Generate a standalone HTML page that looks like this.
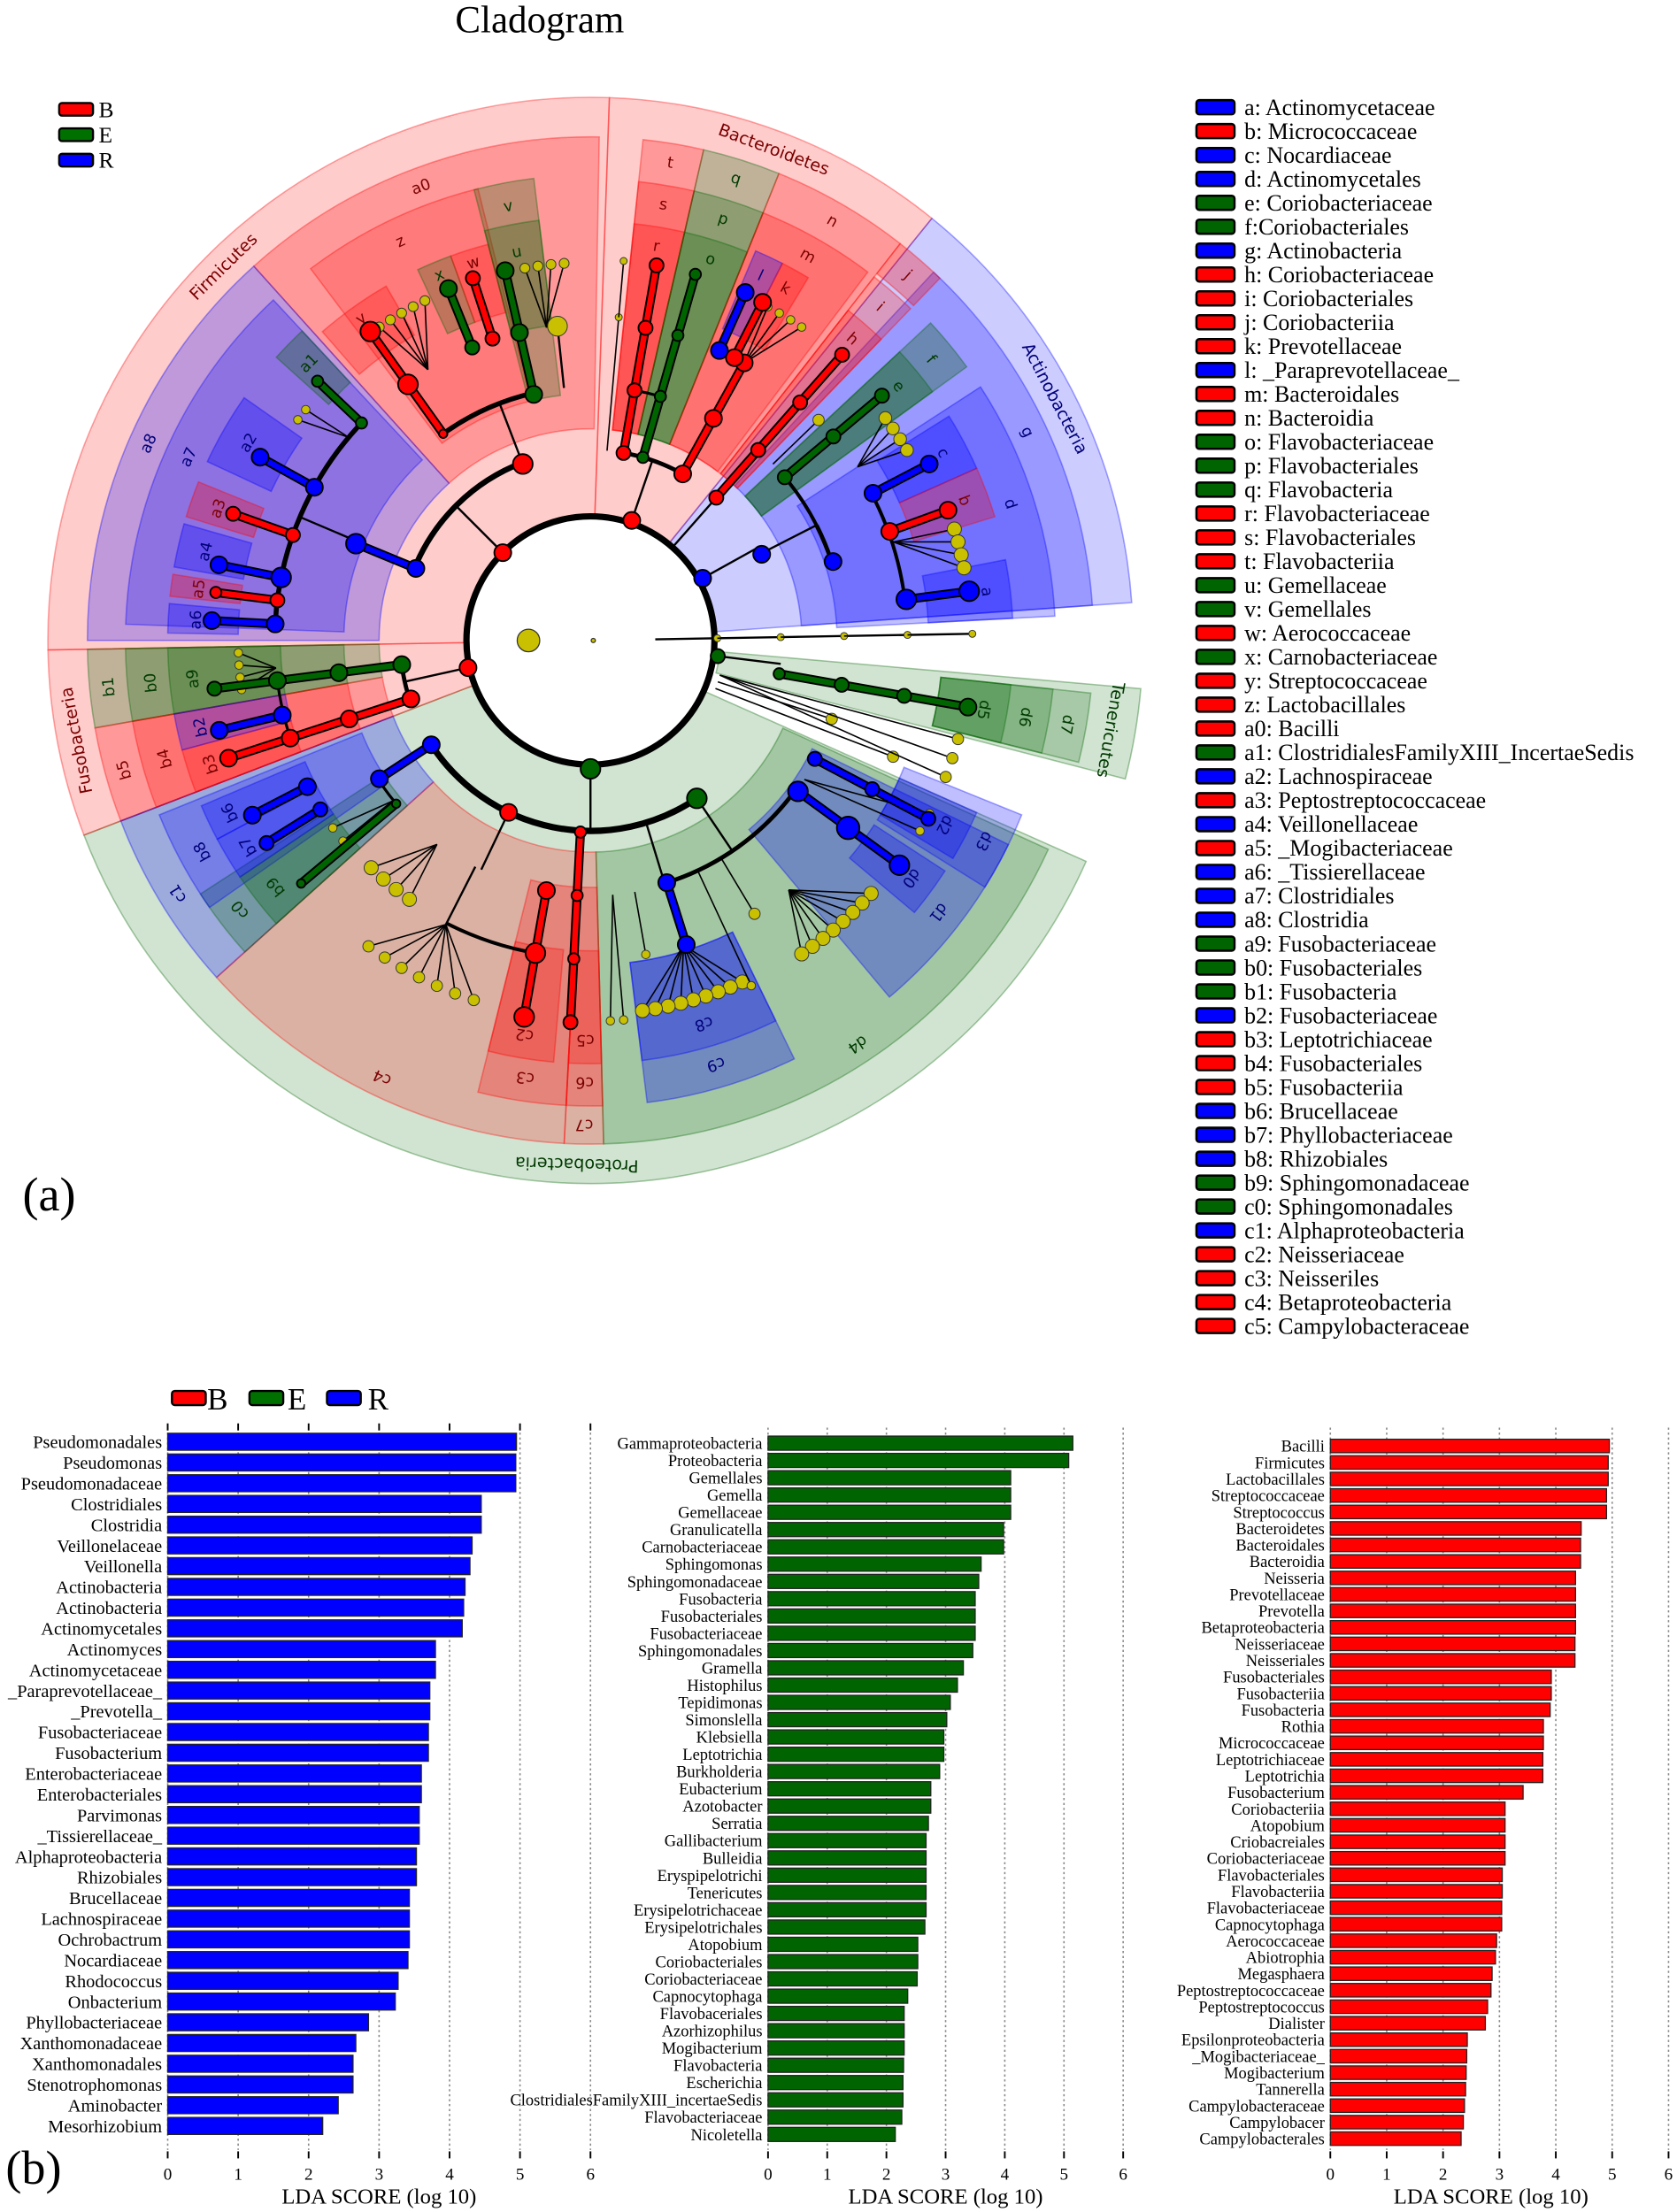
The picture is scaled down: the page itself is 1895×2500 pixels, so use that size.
<!DOCTYPE html>
<html><head><meta charset="utf-8"><style>
html,body{margin:0;padding:0;background:#fff;}
svg{display:block;}
text{font-family:"Liberation Serif",serif;}
.cl{font-family:"DejaVu Sans","Liberation Sans",sans-serif;}
</style></head><body>
<svg id="fig" xmlns="http://www.w3.org/2000/svg" width="1895" height="2500" viewBox="0 0 1190 1568" preserveAspectRatio="none">
<rect x="0" y="0" width="1190" height="1568" fill="#fff"/>
<text x="323" y="23" font-size="27">Cladogram</text>
<text x="16" y="858" font-size="34">(a)</text>
<text x="4" y="1548" font-size="34">(b)</text>
<g id="clado"></g>
<g id="cladoLegend">
 <rect x="42" y="73" width="24" height="9" fill="#f00" stroke="#000" stroke-width="1.5" rx="2"/>
 <text x="70" y="83" font-size="16">B</text>
 <rect x="42" y="91" width="24" height="9" fill="#007000" stroke="#000" stroke-width="1.5" rx="2"/>
 <text x="70" y="101" font-size="16">E</text>
 <rect x="42" y="109" width="24" height="9" fill="#00f" stroke="#000" stroke-width="1.5" rx="2"/>
 <text x="70" y="119" font-size="16">R</text>
</g>
<g id="keyLegend"></g>
<g id="barLegend">
 <rect x="122" y="986" width="24" height="10" fill="#f00" stroke="#000" stroke-width="1.5" rx="2"/>
 <text x="147" y="999" font-size="22">B</text>
 <rect x="177" y="986" width="24" height="10" fill="#007000" stroke="#000" stroke-width="1.5" rx="2"/>
 <text x="204" y="999" font-size="22">E</text>
 <rect x="232" y="986" width="24" height="10" fill="#00f" stroke="#000" stroke-width="1.5" rx="2"/>
 <text x="261" y="999" font-size="22">R</text>
</g>
<g id="bars"></g>
</svg>
<script>
// ---------- Bar chart data ----------
const namesR = ["Pseudomonadales","Pseudomonas","Pseudomonadaceae","Clostridiales","Clostridia","Veillonelaceae","Veillonella","Actinobacteria","Actinobacteria","Actinomycetales","Actinomyces","Actinomycetaceae","_Paraprevotellaceae_","_Prevotella_","Fusobacteriaceae","Fusobacterium","Enterobacteriaceae","Enterobacteriales","Parvimonas","_Tissierellaceae_","Alphaproteobacteria","Rhizobiales","Brucellaceae","Lachnospiraceae","Ochrobactrum","Nocardiaceae","Rhodococcus","Onbacterium","Phyllobacteriaceae","Xanthomonadaceae","Xanthomonadales","Stenotrophomonas","Aminobacter","Mesorhizobium"];
const valsR = [4.95,4.94,4.94,4.45,4.45,4.32,4.29,4.22,4.2,4.18,3.8,3.8,3.72,3.72,3.7,3.7,3.6,3.6,3.57,3.57,3.53,3.53,3.43,3.43,3.43,3.41,3.27,3.23,2.85,2.67,2.63,2.63,2.42,2.2];
const namesE = ["Gammaproteobacteria","Proteobacteria","Gemellales","Gemella","Gemellaceae","Granulicatella","Carnobacteriaceae","Sphingomonas","Sphingomonadaceae","Fusobacteria","Fusobacteriales","Fusobacteriaceae","Sphingomonadales","Gramella","Histophilus","Tepidimonas","Simonslella","Klebsiella","Leptotrichia","Burkholderia","Eubacterium","Azotobacter","Serratia","Gallibacterium","Bulleidia","Eryspipelotrichi","Tenericutes","Erysipelotrichaceae","Erysipelotrichales","Atopobium","Coriobacteriales","Coriobacteriaceae","Capnocytophaga","Flavobaceriales","Azorhizophilus","Mogibacterium","Flavobacteria","Escherichia","ClostridialesFamilyXIII_incertaeSedis","Flavobacteriaceae","Nicoletella"];
const valsE = [5.15,5.08,4.1,4.1,4.1,3.98,3.98,3.6,3.56,3.5,3.5,3.5,3.46,3.3,3.2,3.08,3.02,2.97,2.97,2.9,2.75,2.75,2.71,2.67,2.67,2.67,2.67,2.67,2.65,2.53,2.53,2.52,2.36,2.3,2.3,2.3,2.29,2.28,2.28,2.26,2.15];
const namesB = ["Bacilli","Firmicutes","Lactobacillales","Streptococcaceae","Streptococcus","Bacteroidetes","Bacteroidales","Bacteroidia","Neisseria","Prevotellaceae","Prevotella","Betaproteobacteria","Neisseriaceae","Neisseriales","Fusobacteriales","Fusobacteriia","Fusobacteria","Rothia","Micrococcaceae","Leptotrichiaceae","Leptotrichia","Fusobacterium","Coriobacteriia","Atopobium","Criobacreiales","Coriobacteriaceae","Flavobacteriales","Flavobacteriia","Flavobacteriaceae","Capnocytophaga","Aerococcaceae","Abiotrophia","Megasphaera","Peptostreptococcaceae","Peptostreptococcus","Dialister","Epsilonproteobacteria","_Mogibacteriaceae_","Mogibacterium","Tannerella","Campylobacteraceae","Campylobacer","Campylobacterales"];
const valsB = [4.95,4.93,4.93,4.9,4.9,4.45,4.44,4.44,4.35,4.35,4.35,4.35,4.34,4.34,3.92,3.92,3.9,3.78,3.78,3.77,3.77,3.42,3.1,3.1,3.1,3.1,3.05,3.05,3.04,3.04,2.95,2.93,2.87,2.85,2.79,2.75,2.43,2.42,2.41,2.4,2.38,2.36,2.32];
const tickLabels = ["0","1","2","3","4","5","6"];

const NS="http://www.w3.org/2000/svg";
function mk(tag,parent){const e=document.createElementNS(NS,tag);parent.appendChild(e);return e;}

const barsG=document.getElementById('bars');
function drawChart(names,vals,x0,unit,yFirst,yLast,color,fs,key,topTicks,titleAt){
  const g=mk('g',barsG);
  
  
  const n=names.length, step=(yLast-yFirst)/(n-1), bh=step*0.82;
  const xs=v=>x0+v*unit;
  const ys=i=>yFirst+i*step;
  const yTop=1012, yBot=1524;
  for(let t=0;t<tickLabels.length;t++){
    const gl=mk('line',g);
    gl.setAttribute('x1',xs(t));gl.setAttribute('x2',xs(t));gl.setAttribute('y1',yTop);gl.setAttribute('y2',yBot);
    gl.setAttribute('stroke','#888');gl.setAttribute('stroke-width','1');gl.setAttribute('stroke-dasharray','1.5,2');
    
    
    const tk=mk('line',g);
    tk.setAttribute('x1',xs(t));tk.setAttribute('x2',xs(t));tk.setAttribute('y1',1525);tk.setAttribute('y2',1530);
    tk.setAttribute('stroke','#000');tk.setAttribute('stroke-width','1.2');
    
    
    if(topTicks){const tt=mk('line',g);tt.setAttribute('x1',xs(t));tt.setAttribute('x2',xs(t));tt.setAttribute('y1',1009);tt.setAttribute('y2',1014);tt.setAttribute('stroke','#000');tt.setAttribute('stroke-width','1.2');
      
      }
    const tl=mk('text',g);
    tl.setAttribute('x',xs(t));tl.setAttribute('y',1545);tl.setAttribute('font-size','12');tl.setAttribute('text-anchor','middle');
    tl.textContent=tickLabels[t];
    
    
  }
  for(let i=0;i<n;i++){
    const r=mk('rect',g);
    r.setAttribute('x',xs(0));r.setAttribute('y',ys(i)-bh/2);r.setAttribute('width',xs(vals[i])-xs(0));r.setAttribute('height',bh);
    r.setAttribute('fill',color);r.setAttribute('stroke','#222');r.setAttribute('stroke-width','0.8');
    
    
    const t=mk('text',g);
    t.setAttribute('x',xs(0)-4);t.setAttribute('y',ys(i)+fs*0.35);t.setAttribute('font-size',fs);t.setAttribute('text-anchor','end');
    t.textContent=names[i];
    
    
  }
  const at=mk('text',g);
  at.setAttribute('x',xs(titleAt));at.setAttribute('y',1562);at.setAttribute('font-size','15.5');at.setAttribute('text-anchor','middle');
  at.textContent='LDA SCORE (log 10)';
  
  
}
drawChart(namesR,valsR,119,50,1022,1507,'#0000ff',12.8,'r-group',true,3.0);
drawChart(namesE,valsE,545,42,1023,1513,'#006400',11.6,'e-group',false,3.0);
drawChart(namesB,valsB,944,40,1025,1516,'#ff0000',11.6,'b-group',false,2.85);

// ---------- Taxon key legend ----------
const keyText=["a: Actinomycetaceae","b: Micrococcaceae","c: Nocardiaceae","d: Actinomycetales","e: Coriobacteriaceae","f:Coriobacteriales","g: Actinobacteria","h: Coriobacteriaceae","i: Coriobacteriales","j: Coriobacteriia","k: Prevotellaceae","l: _Paraprevotellaceae_","m: Bacteroidales","n: Bacteroidia","o: Flavobacteriaceae","p: Flavobacteriales","q: Flavobacteria","r: Flavobacteriaceae","s: Flavobacteriales","t: Flavobacteriia","u: Gemellaceae","v: Gemellales","w: Aerococcaceae","x: Carnobacteriaceae","y: Streptococcaceae","z: Lactobacillales","a0: Bacilli","a1: ClostridialesFamilyXIII_IncertaeSedis","a2: Lachnospiraceae","a3: Peptostreptococcaceae","a4: Veillonellaceae","a5: _Mogibacteriaceae","a6: _Tissierellaceae","a7: Clostridiales","a8: Clostridia","a9: Fusobacteriaceae","b0: Fusobacteriales","b1: Fusobacteria","b2: Fusobacteriaceae","b3: Leptotrichiaceae","b4: Fusobacteriales","b5: Fusobacteriia","b6: Brucellaceae","b7: Phyllobacteriaceae","b8: Rhizobiales","b9: Sphingomonadaceae","c0: Sphingomonadales","c1: Alphaproteobacteria","c2: Neisseriaceae","c3: Neisseriles","c4: Betaproteobacteria","c5: Campylobacteraceae"];
const keyGroup="RBRRGGRBBBBRBBGGGBBBGGBGBBBGRBRBRRRGGGRBBBRRRGGRBBBB";
const grpColor={B:'#ff0000',G:'#006400',R:'#0000ff'};
const keyG=document.getElementById('keyLegend');
keyText.forEach((s,i)=>{
  const y=76+i*16.94;
  const r=mk('rect',keyG);
  r.setAttribute('x',849);r.setAttribute('y',y-5);r.setAttribute('width',27);r.setAttribute('height',10);r.setAttribute('rx',2);
  r.setAttribute('fill',grpColor[keyGroup[i]]);r.setAttribute('stroke','#000');r.setAttribute('stroke-width','1.6');
  
  
  const t=mk('text',keyG);
  t.setAttribute('x',883);t.setAttribute('y',y+5.5);t.setAttribute('font-size','16.3');
  t.textContent=s;
  
  
});

// ---------- Cladogram ----------
const CX=419, CY=454;
const P=(a,r)=>[CX+r*Math.cos(a*Math.PI/180), CY+r*Math.sin(a*Math.PI/180)];
const cg=document.getElementById('clado');
const COL={R:'#ff0000',G:'#006400',B:'#0000ff'};
const LBL={R:'#7a0000',G:'#003a00',B:'#00007a'};
const wedges=[
 ['Firmicutes',-181,-88,88,385,'R',0.2,371,12],
 ['Bacteroidetes',-88,-51,88,385,'R',0.2,371,12],
 ['Actinobacteria',-51,-4,88,385,'B',0.2,371,12],
 ['Tenericutes',5,14.5,92,392,'G',0.18,374,12],
 ['Proteobacteria',24,159,88,385,'G',0.18,371,12],
 ['Fusobacteria',159,179,88,385,'R',0.2,371,12],
 ['a0',-132,-89,150,357,'R',0.25,343,11],
 ['a8',-180,-132,150,357,'B',0.25,343,11],
 ['t',-84,-77,150,357,'R',0.25,343,11],
 ['q',-77,-68,150,357,'G',0.25,343,11],
 ['n',-68,-52,150,357,'R',0.25,343,11],
 ['g',-47,-4,150,357,'B',0.25,343,11],
 ['b1',170,179,150,357,'G',0.25,343,11],
 ['b5',159,170,150,357,'R',0.25,343,11],
 ['c1',138,159,150,357,'B',0.25,343,11],
 ['c4',93,138,150,357,'R',0.22,343,11],
 ['c7',88.5,93,150,357,'R',0.22,343,11],
 ['d4',24.5,88.5,150,357,'G',0.22,343,11],
 ['z',-127,-104,175,330,'R',0.2,313,11],
 ['v',-104.5,-97,175,330,'G',0.25,313,11],
 ['y',-131,-120,250,290,'R',0.25,280,11],
 ['x',-115,-110,240,290,'G',0.25,280,11],
 ['w',-110,-104.5,240,290,'R',0.25,280,11],
 ['u',-104.5,-97,225,300,'G',0.25,280,11],
 ['a7',-178,-133,175,330,'B',0.25,313,11],
 ['a1',-138,-133,250,300,'G',0.3,280,11],
 ['a2',-155,-145,250,300,'B',0.3,280,11],
 ['a3',-163,-158,250,300,'R',0.3,280,11],
 ['a4',-170,-164,250,300,'B',0.3,280,11],
 ['a5',-174,-171,250,300,'R',0.3,280,11],
 ['a6',-179,-175,250,300,'B',0.3,280,11],
 ['s',-84,-77,150,327,'R',0.25,313,11],
 ['r',-84,-77,150,297,'R',0.25,283,11],
 ['p',-77,-68,150,327,'G',0.25,313,11],
 ['o',-77,-68,150,297,'G',0.25,283,11],
 ['m',-68,-53,150,327,'R',0.25,313,11],
 ['l',-67,-63,240,300,'B',0.3,285,11],
 ['k',-63,-59,240,300,'R',0.3,285,11],
 ['j',-52,-46,330,357,'R',0.3,343,11],
 ['i',-52,-46,150,327,'R',0.25,313,11],
 ['h',-52,-46,150,297,'R',0.25,283,11],
 ['f',-43,-36,150,330,'G',0.3,313,11],
 ['e',-43,-36,150,300,'G',0.3,283,11],
 ['d',-33,-3,175,330,'B',0.25,313,11],
 ['c',-32,-24,240,300,'B',0.3,283,11],
 ['b',-24,-17,240,300,'R',0.3,283,11],
 ['a',-11,-3,240,300,'B',0.3,283,11],
 ['b0',170,179,175,330,'G',0.25,313,11],
 ['a9',170,179,220,300,'G',0.25,283,11],
 ['b4',159,170,175,330,'R',0.25,313,11],
 ['b3',159,165,220,300,'R',0.25,283,11],
 ['b2',165,170,220,300,'B',0.3,283,11],
 ['c0',138,147,175,330,'G',0.25,313,11],
 ['b8',145,158,175,330,'B',0.25,313,11],
 ['b9',138,146,220,300,'G',0.3,283,11],
 ['b7',146,152,220,300,'B',0.3,283,11],
 ['b6',152,157,220,300,'B',0.3,283,11],
 ['c3',93,104,175,330,'R',0.25,313,11],
 ['c2',95,104,220,300,'R',0.25,283,11],
 ['c6',88.5,93,175,330,'R',0.25,313,11],
 ['c5',88.5,93,220,300,'R',0.25,283,11],
 ['c9',64,83,230,330,'B',0.3,313,11],
 ['c8',64,83,230,300,'B',0.25,283,11],
 ['d1',26,50,175,330,'B',0.3,313,11],
 ['d3',22,32,240,330,'B',0.25,313,11],
 ['d0',33,40,240,300,'B',0.3,283,11],
 ['d2',24,31,240,300,'B',0.3,283,11],
 ['d7',6,14,250,357,'G',0.2,343,11],
 ['d6',6,14,250,330,'G',0.2,313,11],
 ['d5',6,14,250,300,'G',0.25,283,11]
];
function wedgePath(a0,a1,r0,r1){
  const p1=P(a0,r0),p2=P(a0,r1),p3=P(a1,r1),p4=P(a1,r0);
  const lg=(a1-a0)>180?1:0;
  return `M${p1[0]},${p1[1]}L${p2[0]},${p2[1]}A${r1},${r1} 0 ${lg} 1 ${p3[0]},${p3[1]}L${p4[0]},${p4[1]}A${r0},${r0} 0 ${lg} 0 ${p1[0]},${p1[1]}Z`;
}
wedges.forEach(w=>{
  const [lab,a0,a1,r0,r1,gp,op,lr,fs]=w;
  const p=mk('path',cg);
  p.setAttribute('d',wedgePath(a0,a1,r0,r1));
  p.setAttribute('fill',COL[gp]);p.setAttribute('fill-opacity',op);
  p.setAttribute('stroke',COL[gp]);p.setAttribute('stroke-opacity','0.35');p.setAttribute('stroke-width','1');
  
  
  const am=(a0+a1)/2, q=P(am,lr);
  const t=mk('text',cg);
  t.setAttribute('class','cl');
  t.setAttribute('x',q[0]);t.setAttribute('y',q[1]);t.setAttribute('font-size',fs);
  t.setAttribute('text-anchor','middle');t.setAttribute('dominant-baseline','middle');
  t.setAttribute('fill',LBL[gp]);
  t.setAttribute('transform',`rotate(${am+90},${q[0]},${q[1]})`);
  t.textContent=lab;
  
  
});
const cc=mk('circle',cg);
cc.setAttribute('cx',CX);cc.setAttribute('cy',CY);cc.setAttribute('r',88);cc.setAttribute('fill','#fff');cc.setAttribute('stroke','#000');cc.setAttribute('stroke-width','4.5');



const arcs=[[135,-157.6,-111,4],[135,-80,-61,3],[135,162,172.7,3],[135,56,146.8,4.5],[180,-125,-103,3.5],[224,-177,-136,3.5],[180,-27,-18,3],[180,-40,-27,2.5],[225,-28,-7,2.5],[180,-80,-74,2],[224,162,173,2],[180,140,148,2],[225,100,117,2.5],[180,36,73,3],[135,-29,-27,2]];
arcs.forEach(a=>{
  const [r,a0,a1,wd]=a; const p1=P(a0,r),p2=P(a1,r);
  const p=mk('path',cg);
  p.setAttribute('d',`M${p1[0]},${p1[1]}A${r},${r} 0 0 1 ${p2[0]},${p2[1]}`);
  p.setAttribute('fill','none');p.setAttribute('stroke','#000');p.setAttribute('stroke-width',wd);
  
  
});
const connectors=[[-135,88,135],[-111,135,180],[-71,88,135],[-61,135,180],[-29,88,135],[-27,135,180],[167.5,88,135],[90,88,135],[115.5,135,180],[56,135,180],[7,88,136],[-157,180,224],[-1,46,271],[117,180,226],[-96,180,224],[-48.6,88,135],[147,135,180],[73,135,180]];
connectors.forEach(c=>{
  const p1=P(c[0],c[1]),p2=P(c[0],c[2]);
  const l=mk('line',cg);
  l.setAttribute('x1',p1[0]);l.setAttribute('y1',p1[1]);l.setAttribute('x2',p2[0]);l.setAttribute('y2',p2[1]);
  l.setAttribute('stroke','#000');l.setAttribute('stroke-width','1.5');
  
  
});
const fans=[[-121,224,[-124,-122,-120,-118,-116],268,3.5],[-98,224,[-100,-98,-96,-94],268,3.5],[-96,180,[-96],224,7],[-61,225,[-62,-60,-58,-56],268,3],[-33,226,[-37,-35,-33,-31],262,4.5],[-18,226,[-17,-15,-13,-11],270,5],[117,226,[108,111,114,117,120,123,126],268,4],[127,181,[125,128,131,134],224,5],[73,226,[66,68,70,72,74,76,78,80,82],265,5],[51.5,226,[42,44,46,48,50,52,54,56],268,5],[59,181,[59],226,4],[18,95,[18],180,4],[21,95,[21],230,4],[15,95,[15,18,21],270,4],[175,224,[172,174,176,178],250,3],[-1,46,[-1],90,2.5],[-1,90,[-1],135,2.5],[-1,135,[-1],180,2.5],[-1,180,[-1],225,2.5],[-1,225,[-1],271,2.5],[-85,135,[-85],230,2.5],[-85,230,[-85],270,2.5],[-44,180,[-44],225,4],[141,181,[141,144],226,3],[85,181,[85,87],270,3],[80,181,[80],226,3],[33,181,[27,30],270,3],[65,181,[65],270,3],[-140,224,[-141,-143],260,3]];
fans.forEach(f=>{
  const [pa,pr,cas,cr,sz]=f; const p0=P(pa,pr);
  cas.forEach(ca=>{
    const p1=P(ca,cr);
    const l=mk('line',cg);
    l.setAttribute('x1',p0[0]);l.setAttribute('y1',p0[1]);l.setAttribute('x2',p1[0]);l.setAttribute('y2',p1[1]);
    l.setAttribute('stroke','#000');l.setAttribute('stroke-width','1');
    
    
    const c=mk('circle',cg);
    c.setAttribute('cx',p1[0]);c.setAttribute('cy',p1[1]);c.setAttribute('r',sz);
    c.setAttribute('fill','#c8c000');c.setAttribute('stroke','#333');c.setAttribute('stroke-width','0.6');
    
    
  });
});
const lineages=[
 ['R',-135,[88],[6]],['R',-111,[134],[7]],['B',-157.6,[134,180],[6,7]],
 ['R',-125.5,[180,223,269],[3,7,7]],['R',-108,[225,270],[5,5]],['G',-112,[224,269],[5,6]],['G',-103,[179,224,269],[6,6,6]],
 ['G',-136.5,[224,267],[4,4]],['B',-151,[224,268],[6,6]],['R',-160.5,[224,269],[5,5]],['B',-168.5,[224,269],[7,6]],['R',-172.7,[224,268],[5,4]],['B',-177,[224,269],[6,6]],
 ['R',-71,[90],[6]],['R',-80,[135,180,225,270],[5,5,5,5]],['G',-74,[135,180,225,270],[4,4,4,4]],['R',-61,[135,180,225],[6,6,6]],['R',-63,[225,269],[6,6]],['B',-66,[225,270],[6,6]],['R',-48.6,[135,180,225,270],[5,5,5,5]],
 ['B',-29,[91],[6]],['B',-26.7,[136],[6]],['B',-18,[181],[6]],['G',-40,[180,225,270],[5,5,5]],['B',-27.5,[226,271],[6,6]],['R',-20,[226,270],[6,6]],['B',-7.4,[226,271],[7,7]],
 ['R',167.5,[89],[6]],['G',172.7,[135,180,224,269],[6,6,6,5]],['R',162,[134,180,224,270],[6,6,6,6]],['B',166.4,[225,271],[6,6]],
 ['G',90,[91],[7]],['B',146.8,[135,179],[6,6]],['B',152.7,[226,270],[6,6]],['B',148,[226,271],[5,5]],['G',140,[180,268],[3,3]],
 ['R',115.5,[135],[6]],['R',100,[180,225,271],[6,7,7]],['R',93,[136,181,226,271],[4,4,4,5]],
 ['G',56,[135],[7]],['B',72.5,[180,226],[6,6]],['B',36,[182,226,271],[7,8,7]],['B',27.8,[180,226,271],[5,5,5]],
 ['G',7,[91],[5]],['G',10,[136,181,226,272],[4,5,5,6]]
];
lineages.forEach(L=>{
  const [gp,a,rs,sz]=L;
  if(rs.length>1){
    const p1=P(a,rs[0]),p2=P(a,rs[rs.length-1]);
    const lb=mk('line',cg);
    lb.setAttribute('x1',p1[0]);lb.setAttribute('y1',p1[1]);lb.setAttribute('x2',p2[0]);lb.setAttribute('y2',p2[1]);
    lb.setAttribute('stroke','#000');lb.setAttribute('stroke-width','6.5');
    
    
    const lc=mk('line',cg);
    lc.setAttribute('x1',p1[0]);lc.setAttribute('y1',p1[1]);lc.setAttribute('x2',p2[0]);lc.setAttribute('y2',p2[1]);
    lc.setAttribute('stroke',COL[gp]);lc.setAttribute('stroke-width','4');
    
    
  }
  rs.forEach((r,i)=>{
    const p=P(a,r);
    const c=mk('circle',cg);
    c.setAttribute('cx',p[0]);c.setAttribute('cy',p[1]);c.setAttribute('r',sz[i]);
    c.setAttribute('fill',COL[gp]);c.setAttribute('stroke','#000');c.setAttribute('stroke-width','1.2');
    
    
  });
});
[[180,44,8],[0,2,1.5]].forEach(n=>{
  const p=P(n[0],n[1]);const c=mk('circle',cg);
  c.setAttribute('cx',p[0]);c.setAttribute('cy',p[1]);c.setAttribute('r',n[2]);
  c.setAttribute('fill','#c8c000');c.setAttribute('stroke','#333');c.setAttribute('stroke-width','0.8');
  
  
});
</script>
</body></html>
